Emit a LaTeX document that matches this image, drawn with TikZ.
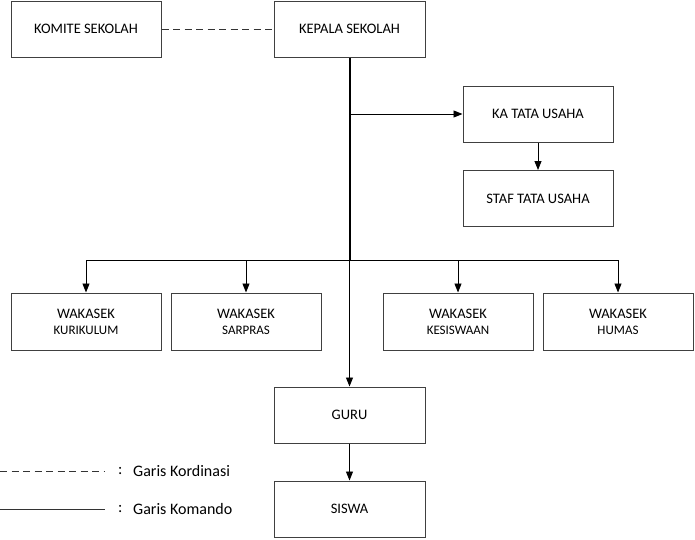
\documentclass[tikz,border=0pt]{standalone}
\usepackage{fontspec}
\setmainfont{Carlito}
\usetikzlibrary{arrows.meta}
\begin{document}
\begin{tikzpicture}[x=1pt,y=-1pt,
  box/.style={draw=black!75,line width=1pt,minimum width=150pt,minimum height=56pt,inner sep=0pt,align=center,font=\fontsize{14.5}{17}\selectfont},
  cmd/.style={draw=black,line width=0.9pt,-{Triangle[length=9pt,width=7pt]}},
  thickline/.style={draw=black,line width=2pt},
  coord/.style={draw=black!80,line width=0.9pt,dash pattern=on 7pt off 4.5pt},
  legtxt/.style={anchor=west,inner sep=0pt,font=\fontsize{16}{18}\selectfont}]
\useasboundingbox (0,0) rectangle (695,539);
\node[box] (komite) at (86,29) {KOMITE SEKOLAH};
\node[box,minimum width=151pt] (kepala) at (349.5,29) {KEPALA SEKOLAH};
\node[box] (ka) at (538,114) {KA TATA USAHA};
\node[box] (staf) at (538,198.5) {STAF TATA USAHA};
\node[box,minimum height=57pt] (kur) at (86,321.5) {WAKASEK\\[-1pt]{\fontsize{13}{15}\selectfont KURIKULUM}};
\node[box,minimum height=57pt] (sar) at (246,321.5) {WAKASEK\\[-1pt]{\fontsize{13}{15}\selectfont SARPRAS}};
\node[box,minimum height=57pt] (kes) at (458,321.5) {WAKASEK\\[-1pt]{\fontsize{13}{15}\selectfont KESISWAAN}};
\node[box,minimum height=57pt] (hum) at (618,321.5) {WAKASEK\\[-1pt]{\fontsize{13}{15}\selectfont HUMAS}};
\node[box,minimum width=151pt] (guru) at (349.5,415) {GURU};
\node[box,minimum width=151pt] (siswa) at (349.5,509) {SISWA};
\coordinate (hub) at (349.5,260);
\coordinate (tu) at (349.5,114);
% lines
\draw[coord] (komite.east) -- (kepala.west);
\draw[thickline] (kepala.south) -- (hub);
\draw[cmd] (tu) -- (ka.west);
\draw[cmd] (ka.south) -- (staf.north);
\draw[cmd] (hub) -| (kur.north);
\draw[cmd] (hub) -| (sar.north);
\draw[cmd] (hub) -| (kes.north);
\draw[cmd] (hub) -| (hum.north);
\draw[cmd] (hub) -- (guru.north);
\draw[cmd] (guru.south) -- (siswa.north);
% legend
\coordinate (la) at (0,471);
\coordinate (lb) at (105,471);
\coordinate (lc) at (0,509);
\coordinate (ld) at (105,509);
\draw[coord] (la) -- (lb);
\draw[draw=black!80,line width=0.9pt] (lc) -- (ld);
\node[legtxt] (c1) at (118,471) {:};
\node[legtxt] (t1) at (133,471) {Garis Kordinasi};
\node[legtxt] (c2) at (118,509) {:};
\node[legtxt] (t2) at (133,509) {Garis Komando};
\end{tikzpicture}
\end{document}
